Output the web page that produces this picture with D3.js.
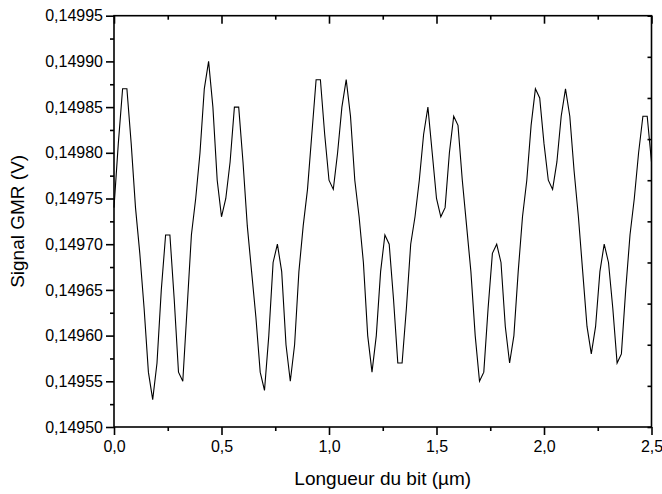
<!DOCTYPE html>
<html>
<head>
<meta charset="utf-8">
<script src="https://cdn.jsdelivr.net/npm/d3@7"></script>
<style>
  html, body { margin: 0; padding: 0; background: #fff; }
  svg { display: block; font-family: "Liberation Sans", Arial, sans-serif; }
</style>
</head>
<body>
<svg id="chart" width="662" height="494"></svg>
<script>
// Position along the bit (µm)
const bitPosition = [
  0.00,0.02,0.04,0.06,0.08,0.10,0.12,0.14,0.16,0.18,
  0.20,0.22,0.24,0.26,0.28,0.30,0.32,0.34,0.36,0.38,
  0.40,0.42,0.44,0.46,0.48,0.50,0.52,0.54,0.56,0.58,
  0.60,0.62,0.64,0.66,0.68,0.70,0.72,0.74,0.76,0.78,
  0.80,0.82,0.84,0.86,0.88,0.90,0.92,0.94,0.96,0.98,
  1.00,1.02,1.04,1.06,1.08,1.10,1.12,1.14,1.16,1.18,
  1.20,1.22,1.24,1.26,1.28,1.30,1.32,1.34,1.36,1.38,
  1.40,1.42,1.44,1.46,1.48,1.50,1.52,1.54,1.56,1.58,
  1.60,1.62,1.64,1.66,1.68,1.70,1.72,1.74,1.76,1.78,
  1.80,1.82,1.84,1.86,1.88,1.90,1.92,1.94,1.96,1.98,
  2.00,2.02,2.04,2.06,2.08,2.10,2.12,2.14,2.16,2.18,
  2.20,2.22,2.24,2.26,2.28,2.30,2.32,2.34,2.36,2.38,
  2.40,2.42,2.44,2.46,2.48,2.50
];
// GMR signal (V)
const gmrSignal = [
  0.14974,0.14981,0.14987,0.14987,0.14981,0.14974,0.14969,0.14963,0.14956,0.14953,
  0.14957,0.14965,0.14971,0.14971,0.14964,0.14956,0.14955,0.14963,0.14971,0.14975,
  0.14980,0.14987,0.14990,0.14985,0.14977,0.14973,0.14975,0.14979,0.14985,0.14985,
  0.14979,0.14972,0.14967,0.14962,0.14956,0.14954,0.14960,0.14968,0.14970,0.14967,
  0.14959,0.14955,0.14959,0.14967,0.14972,0.14976,0.14982,0.14988,0.14988,0.14982,
  0.14977,0.14976,0.14980,0.14985,0.14988,0.14984,0.14977,0.14973,0.14968,0.14960,
  0.14956,0.14960,0.14967,0.14971,0.14970,0.14964,0.14957,0.14957,0.14963,0.14970,
  0.14973,0.14977,0.14982,0.14985,0.14980,0.14975,0.14973,0.14974,0.14980,0.14984,
  0.14983,0.14977,0.14972,0.14967,0.14960,0.14955,0.14956,0.14963,0.14969,0.14970,
  0.14968,0.14961,0.14957,0.14960,0.14967,0.14973,0.14977,0.14983,0.14987,0.14986,
  0.14981,0.14977,0.14976,0.14979,0.14984,0.14987,0.14984,0.14978,0.14973,0.14967,
  0.14961,0.14958,0.14961,0.14967,0.14970,0.14968,0.14963,0.14957,0.14958,0.14965,
  0.14971,0.14975,0.14980,0.14984,0.14984,0.14979
];
const xMajorTicks = [0, 0.5, 1.0, 1.5, 2.0, 2.5];
const xMinorTicks = [0.25, 0.75, 1.25, 1.75, 2.25];
const yMajorTicks = [0.14950,0.14955,0.14960,0.14965,0.14970,0.14975,0.14980,0.14985,0.14990,0.14995];
const yMinorTicks = [0.149525,0.149575,0.149625,0.149675,0.149725,0.149775,0.149825,0.149875,0.149925];
const xDomain = [0, 2.5];
const yDomain = [0.14950, 0.14995];
const xTitle = "Longueur du bit (µm)";
const yTitle = "Signal GMR (V)";

const pL = 114, pR = 651.5, pT = 15.7, pB = 427;
const svg = d3.select("#chart");
svg.append("rect").attr("width", 662).attr("height", 494).attr("fill", "#fff");

const x = d3.scaleLinear().domain(xDomain).range([pL, pR]);
const y = d3.scaleLinear().domain(yDomain).range([pB, pT]);

const loc = d3.formatLocale({decimal: ",", thousands: ".", grouping: [3], currency: ["", "€"]});
const fx = loc.format(".1f");
const fy = loc.format(".5f");

// data line
const line = d3.line().x((d, i) => x(bitPosition[i])).y(d => y(d));
svg.append("path").datum(gmrSignal)
  .attr("d", line)
  .attr("fill", "none")
  .attr("stroke", "#000")
  .attr("stroke-width", 1.1)
  .attr("stroke-linejoin", "miter");

const axisW = 1.6;
function styleAxis(g) {
  g.select(".domain").remove();
  g.selectAll("line").attr("stroke", "#000").attr("stroke-width", axisW);
  g.selectAll("text").attr("fill", "#000").style("font-size", "16px")
    .style("font-family", "'Liberation Sans', Arial, sans-serif");
}

// bottom axis
const gB = svg.append("g").attr("transform", `translate(0,${pB})`)
  .call(d3.axisBottom(x).tickValues(xMajorTicks).tickFormat(fx).tickSizeInner(8).tickSizeOuter(0).tickPadding(6));
styleAxis(gB);
const gBm = svg.append("g").attr("transform", `translate(0,${pB})`)
  .call(d3.axisBottom(x).tickValues(xMinorTicks).tickFormat("").tickSizeInner(4).tickSizeOuter(0));
styleAxis(gBm);

// top axis (inward ticks)
const gT = svg.append("g").attr("transform", `translate(0,${pT})`)
  .call(d3.axisBottom(x).tickValues(xMajorTicks).tickFormat("").tickSizeInner(8).tickSizeOuter(0));
styleAxis(gT);
const gTm = svg.append("g").attr("transform", `translate(0,${pT})`)
  .call(d3.axisBottom(x).tickValues(xMinorTicks).tickFormat("").tickSizeInner(4).tickSizeOuter(0));
styleAxis(gTm);

// left axis
const gL = svg.append("g").attr("transform", `translate(${pL},0)`)
  .call(d3.axisLeft(y).tickValues(yMajorTicks).tickFormat(fy).tickSizeInner(8).tickSizeOuter(0).tickPadding(3));
styleAxis(gL);
const gLm = svg.append("g").attr("transform", `translate(${pL},0)`)
  .call(d3.axisLeft(y).tickValues(yMinorTicks).tickFormat("").tickSizeInner(4).tickSizeOuter(0));
styleAxis(gLm);

// right axis (inward ticks, 10 equal divisions)
const yRight = d3.scaleLinear().domain([0, 10]).range([pB, pT]);
const gR = svg.append("g").attr("transform", `translate(${pR},0)`)
  .call(d3.axisLeft(yRight).tickValues(d3.range(0, 11)).tickFormat("").tickSizeInner(4).tickSizeOuter(0));
styleAxis(gR);

// frame
svg.append("rect")
  .attr("x", pL).attr("y", pT)
  .attr("width", pR - pL).attr("height", pB - pT)
  .attr("fill", "none").attr("stroke", "#000").attr("stroke-width", axisW);

// titles
svg.append("text")
  .attr("x", (pL + pR) / 2).attr("y", 485)
  .attr("text-anchor", "middle")
  .style("font-size", "19px")
  .text(xTitle);
svg.append("text")
  .attr("transform", `translate(24,${(pT + pB) / 2}) rotate(-90)`)
  .attr("text-anchor", "middle")
  .style("font-size", "19px")
  .text(yTitle);
</script>
</body>
</html>
